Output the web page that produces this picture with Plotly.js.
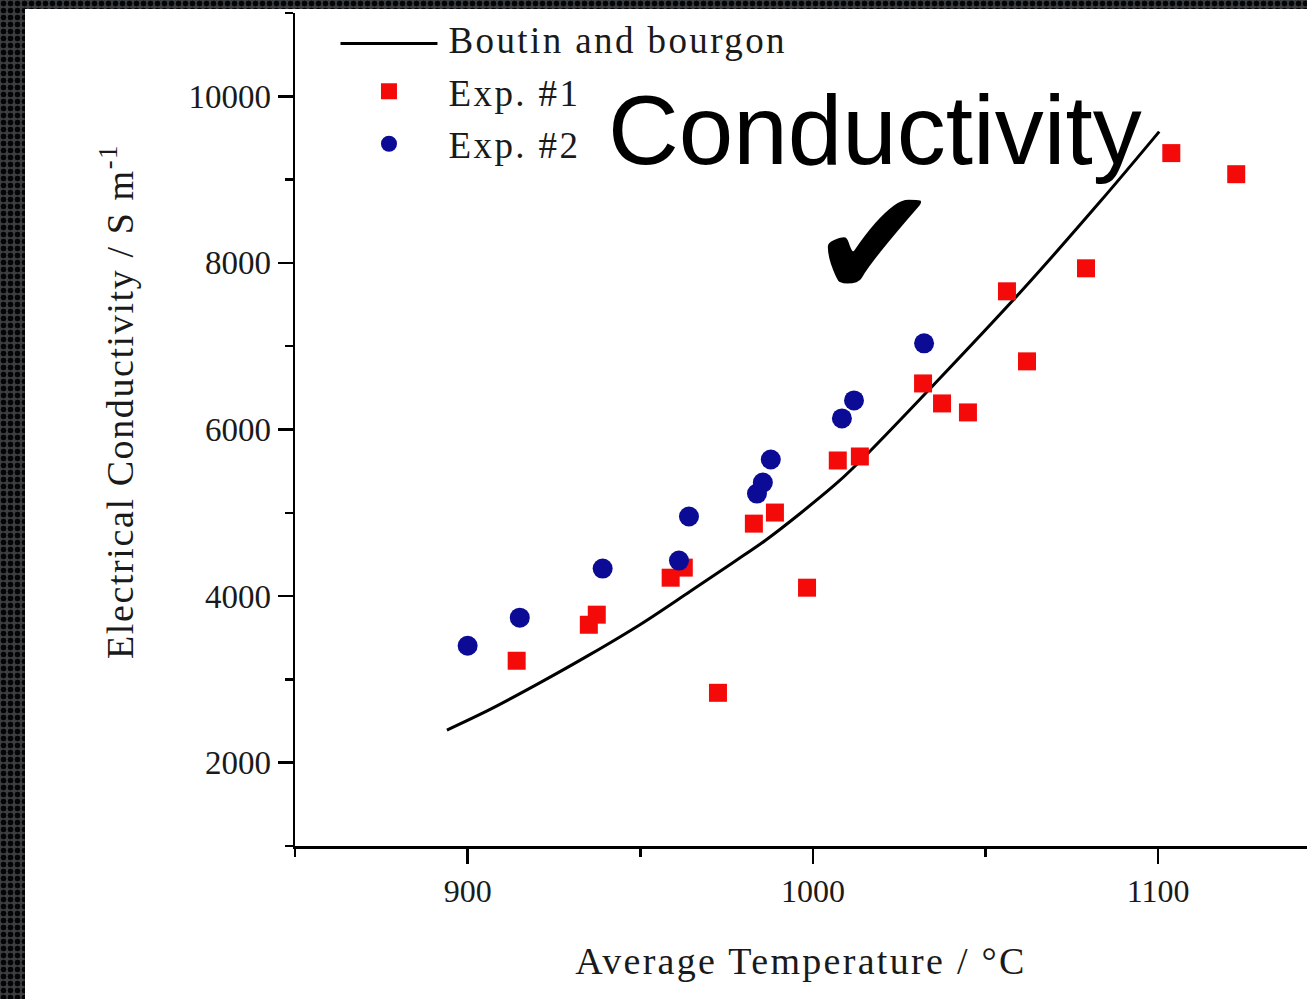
<!DOCTYPE html>
<html>
<head>
<meta charset="utf-8">
<script src="https://cdn.plot.ly/plotly-3.0.1.min.js"></script>
<style>
  html, body { margin: 0; padding: 0; width: 1307px; height: 999px; overflow: hidden; }
  body {
    background-color: #3c3f42;
    background-image: radial-gradient(circle at 50% 50%, #050505 0, #050505 2.6px, transparent 3.2px);
    background-size: 7px 7px;
  }
  #plot { position: absolute; left: 25px; top: 9px; width: 1282px; height: 990px; background: #ffffff; }
  .legendtext { letter-spacing: 2.4px; }
  #plot .legend .legendtext { transform: translate(6px, -5px); }
  #plot .legend .legendpoints { transform: translateY(-5px); }
  .xtitle { letter-spacing: 2.3px; }
  .ytitle { letter-spacing: 1.6px; }
  #plot .g-ytitle { transform: translate(-3px, -28px); }
</style>
</head>
<body>
<div id="plot"></div>
<script>
// Boutin and Bourgon model curve
const modelT = [894.0, 906.5, 921.0, 935.5, 950.0, 964.4, 976.9, 986.2, 996.3, 1007.3, 1015.6, 1034.8, 1060.0, 1083.2, 1100.3];
const modelSigma = [2392, 2640, 2961, 3300, 3660, 4056, 4404, 4668, 4992, 5370, 5700, 6528, 7644, 8736, 9576];

// Exp. #1 (red squares)
const exp1T = [914.2, 935.1, 937.4, 958.8, 962.6, 972.5, 982.9, 989.0, 998.3, 1007.2, 1013.6, 1031.9, 1037.4, 1044.9, 1056.2, 1062.0, 1079.1, 1103.8, 1122.6];
const exp1Sigma = [3224, 3656, 3777, 4221, 4342, 2839, 4870, 5003, 4101, 5628, 5676, 6553, 6313, 6205, 7659, 6818, 7935, 9318, 9065];

// Exp. #2 (blue circles)
const exp2T = [900.0, 915.1, 939.1, 961.2, 964.1, 983.8, 985.5, 987.8, 1008.4, 1011.9, 1032.2];
const exp2Sigma = [3404, 3741, 4330, 4426, 4955, 5231, 5363, 5640, 6133, 6349, 7034];

const seriesNames = ['Boutin and bourgon', 'Exp. #1', 'Exp. #2'];
const xTitle = 'Average Temperature / °C';
const yTitle = 'Electrical Conductivity / S m<sup>-1</sup>';
const overlayWord = 'Conductivity';
const overlayMark = '✔';

const serif = '"Liberation Serif", "Times New Roman", serif';
const ink = '#1a1a1a';

const traces = [
  { x: modelT, y: modelSigma, name: seriesNames[0], legendgroup: 'a', type: 'scatter', mode: 'lines',
    line: { color: '#000000', width: 3, shape: 'spline', smoothing: 1 } },
  { x: exp1T, y: exp1Sigma, name: seriesNames[1], legendgroup: 'b', type: 'scatter', mode: 'markers',
    marker: { symbol: 'square', size: 18, color: '#f50a0a', line: { width: 0 } } },
  { x: exp2T, y: exp2Sigma, name: seriesNames[2], legendgroup: 'c', type: 'scatter', mode: 'markers',
    marker: { symbol: 'circle', size: 20, color: '#0b0b96', line: { width: 0 } } }
];

const layout = {
  width: 1282, height: 990,
  margin: { l: 270, r: 0, t: 4, b: 153 },
  paper_bgcolor: '#ffffff', plot_bgcolor: '#ffffff',
  showlegend: true,
  legend: {
    x: 0.04, y: 1, xanchor: 'left', yanchor: 'top',
    bgcolor: 'rgba(0,0,0,0)', borderwidth: 0,
    itemwidth: 97, traceorder: 'grouped', tracegroupgap: 1.5,
    font: { family: serif, size: 37, color: ink }
  },
  xaxis: {
    range: [850, 1143.1], autorange: false,
    showline: true, linecolor: '#000', linewidth: 2.5,
    showgrid: false, zeroline: false,
    ticks: 'outside', ticklen: 15, tickwidth: 2.5, tickcolor: '#000',
    tick0: 900, dtick: 100,
    minor: { ticks: 'outside', ticklen: 8, tickwidth: 2.5, tickcolor: '#000', dtick: 50, tick0: 850, showgrid: false },
    tickfont: { family: serif, size: 32, color: ink },
    title: { text: xTitle, font: { family: serif, size: 38, color: ink }, standoff: 40 }
  },
  yaxis: {
    range: [1000, 11000], autorange: false,
    showline: true, linecolor: '#000', linewidth: 2.5,
    showgrid: false, zeroline: false,
    ticks: 'outside', ticklen: 15, tickwidth: 2.5, tickcolor: '#000',
    tick0: 2000, dtick: 2000, tickformat: 'd',
    minor: { ticks: 'outside', ticklen: 8, tickwidth: 2.5, tickcolor: '#000', dtick: 1000, tick0: 1000, showgrid: false },
    tickfont: { family: serif, size: 33, color: ink },
    title: { text: yTitle, font: { family: serif, size: 38, color: ink }, standoff: 40 }
  },
  annotations: [
    { xref: 'paper', yref: 'paper', x: 0.573, y: (846.7 - 130) / 833.4, xanchor: 'center', yanchor: 'middle',
      text: overlayWord, showarrow: false,
      font: { family: '"Liberation Sans", Arial, sans-serif', size: 98, color: '#000' } },
    { xref: 'paper', yref: 'paper', x: (874 - 295) / 1012, y: (846.7 - 244) / 833.4, xanchor: 'center', yanchor: 'middle',
      text: overlayMark, showarrow: false,
      font: { family: '"DejaVu Sans", sans-serif', size: 154, color: '#000' } }
  ]
};

Plotly.newPlot('plot', traces, layout, { staticPlot: true, displayModeBar: false });
</script>
</body>
</html>
